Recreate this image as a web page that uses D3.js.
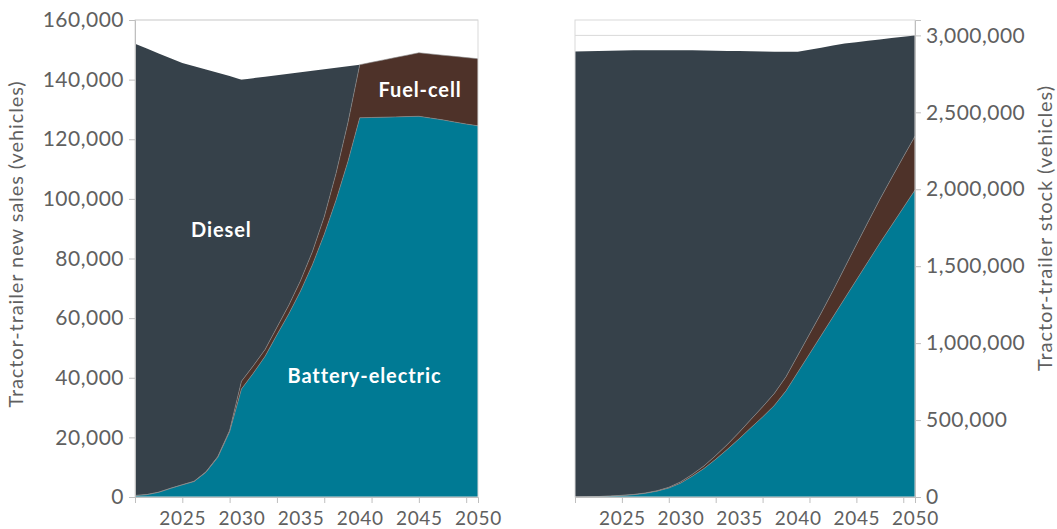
<!DOCTYPE html>
<html>
<head>
<meta charset="utf-8">
<script src="https://cdn.jsdelivr.net/npm/d3@7"></script>
<style>
  body { margin: 0; background: #fff; }
  svg { display: block; font-family: Lato, "Open Sans", sans-serif; }
  .tick text { fill: #606060; }
</style>
</head>
<body>
<svg id="chart"></svg>
<script>
const width = 1057;
const height = 529;

const years = [2021, 2022, 2023, 2024, 2025, 2026, 2027, 2028, 2029, 2030,
	2031, 2032, 2033, 2034, 2035, 2036, 2037, 2038, 2039, 2040,
	2041, 2042, 2043, 2044, 2045, 2046, 2047, 2048, 2049, 2050];

// new sales (vehicles)
const salesBev = [500, 800, 1600, 2900, 4100, 5200, 8300, 13300, 21900, 36200,
	41500, 47200, 54400, 61400, 69100, 77900, 88100, 99600, 112500, 127200,
	127300, 127400, 127500, 127600, 127700, 127100, 126500, 125800, 125100, 124500];
const salesFcev = [0, 0, 0, 0, 0, 100, 150, 250, 400, 2600,
	2500, 2300, 2500, 2900, 3500, 4400, 5900, 9000, 13000, 17800,
	18500, 19200, 19900, 20600, 21300, 21500, 21700, 22000, 22300, 22500];
const salesDiesel = [151500, 149600, 147200, 144300, 141500, 139200, 134950, 128750, 118900, 101200,
	96500, 91500, 84600, 77700, 69900, 60700, 49500, 35400, 19000, 0,
	0, 0, 0, 0, 0, 0, 0, 0, 0, 0];

// stock (vehicles)
const stockBev = [0, 1000, 3000, 6000, 10000, 15000, 24000, 38000, 58000, 90000,
	135000, 185000, 245000, 310000, 378000, 450000, 520000, 595000, 690000, 810000,
	930000, 1050000, 1170000, 1290000, 1410000, 1530000, 1650000, 1765000, 1880000, 1995000];
const stockFcev = [0, 0, 0, 500, 1000, 1500, 2000, 3000, 5000, 8000,
	12000, 17000, 24000, 32000, 42000, 54000, 66000, 78000, 92000, 110000,
	128000, 146000, 170000, 200000, 230000, 258000, 284000, 308000, 330000, 350000];
const stockDiesel = [2895000, 2896000, 2896000, 2893500, 2891000, 2886500, 2877000, 2862000, 2840000, 2805000,
	2756000, 2700000, 2631000, 2557000, 2478000, 2393000, 2309000, 2220000, 2111000, 1973000,
	1849000, 1724000, 1594000, 1457000, 1316000, 1177000, 1040000, 910000, 781000, 655000];

const seriesKeys = ['bev', 'fcev', 'diesel'];
const colors = { bev: '#007a94', fcev: '#4e3229', diesel: '#36414a' };

const tickYears = [2021, 2025, 2029, 2033, 2037, 2041, 2045, 2049];
const labelYears = [2025, 2030, 2035, 2040, 2045, 2050];
const salesTicks = [0, 20000, 40000, 60000, 80000, 100000, 120000, 140000, 160000];
const stockTicks = [0, 500000, 1000000, 1500000, 2000000, 2500000, 3000000];

const fmt = d3.format(',');

const svg = d3.select('#chart').attr('width', width).attr('height', height);

function drawPanel(opts) {
	const x = d3.scaleLinear().domain([2021, 2050]).range(opts.xRange);
	const y = d3.scaleLinear().domain([0, opts.yMax]).range([497, 20]);

	const table = years.map((yr, i) => ({
		year: yr,
		bev: opts.bev[i],
		fcev: opts.fcev[i],
		diesel: opts.diesel[i],
	}));
	const stacked = d3.stack().keys(seriesKeys)(table);

	const g = svg.append('g');

	// gridlines sit behind the areas, only the top one shows
	g.append('g')
		.selectAll('line')
		.data(opts.ticks)
		.enter()
		.append('line')
		.attr('x1', opts.xRange[0])
		.attr('x2', opts.xRange[1])
		.attr('y1', (d) => y(d))
		.attr('y2', (d) => y(d))
		.attr('stroke', '#d9d9d9')
		.attr('stroke-width', 1);

	const area = d3
		.area()
		.x((d) => x(d.data.year))
		.y0((d) => y(d[0]))
		.y1((d) => y(d[1]));

	g.append('g')
		.selectAll('path')
		.data(stacked)
		.enter()
		.append('path')
		.attr('d', area)
		.attr('fill', (d) => colors[d.key]);

	// thin light boundaries between the stacked series
	const edge = d3
		.line()
		.x((d) => x(d.data.year))
		.y((d) => y(d[1]));
	g.append('g')
		.selectAll('path')
		.data(stacked.slice(0, 2))
		.enter()
		.append('path')
		.attr('d', edge)
		.attr('fill', 'none')
		.attr('stroke', '#8d8d8d')
		.attr('stroke-width', 0.6);

	// plot frame
	g.append('rect')
		.attr('x', opts.xRange[0])
		.attr('y', 20)
		.attr('width', opts.xRange[1] - opts.xRange[0])
		.attr('height', 477)
		.attr('fill', 'none')
		.attr('stroke', '#d9d9d9')
		.attr('stroke-width', 1);

	// x ticks (every 4 years) and labels (every 5 years)
	const xTickAxis = g
		.append('g')
		.attr('transform', 'translate(0,497)')
		.call(d3.axisBottom(x).tickValues(tickYears).tickSize(6).tickFormat(''));
	xTickAxis.select('.domain').attr('stroke', '#bfbfbf');
	xTickAxis.selectAll('.tick line').attr('stroke', '#bfbfbf');

	const xLabelAxis = g
		.append('g')
		.attr('transform', 'translate(0,497)')
		.call(d3.axisBottom(x).tickValues(labelYears).tickSize(0).tickPadding(15).tickFormat(d3.format('d')));
	xLabelAxis.select('.domain').remove();
	xLabelAxis.selectAll('text').attr('font-size', 19).attr('font-family', 'Lato, sans-serif').attr('letter-spacing', 0.7);

	// y axis
	const yAxis = opts.side === 'left' ? d3.axisLeft(y) : d3.axisRight(y);
	const yg = g
		.append('g')
		.attr('transform', `translate(${opts.side === 'left' ? opts.xRange[0] : opts.xRange[1]},0)`)
		.call(yAxis.tickValues(opts.ticks).tickSize(6).tickPadding(5).tickFormat(fmt));
	yg.select('.domain').attr('stroke', '#bfbfbf');
	yg.selectAll('.tick line').attr('stroke', '#bfbfbf');
	yg.selectAll('text').attr('font-size', 21).attr('font-family', 'Lato, sans-serif').attr('letter-spacing', 0.5);

	svg.append('text')
		.attr('transform', `translate(${opts.titleX},${opts.titleY}) rotate(-90)`)
		.attr('text-anchor', 'middle')
		.attr('dominant-baseline', 'middle')
		.attr('fill', '#606060')
		.attr('font-size', 20)
		.attr('letter-spacing', 0.9)
		.text(opts.title);

	return { x, y, g };
}

const sales = drawPanel({
	xRange: [135, 478],
	yMax: 160000,
	ticks: salesTicks,
	bev: salesBev,
	fcev: salesFcev,
	diesel: salesDiesel,
	side: 'left',
	title: 'Tractor-trailer new sales (vehicles)',
	titleX: 18,
	titleY: 244,
});

drawPanel({
	xRange: [575, 915],
	yMax: 3100000,
	ticks: stockTicks,
	bev: stockBev,
	fcev: stockFcev,
	diesel: stockDiesel,
	side: 'right',
	title: 'Tractor-trailer stock (vehicles)',
	titleX: 1047,
	titleY: 228,
});

// series labels on the sales panel
const seriesLabels = [
	{ text: 'Diesel', year: 2028.3, value: 89000 },
	{ text: 'Fuel-cell', year: 2045.1, value: 136000 },
	{ text: 'Battery-electric', year: 2040.4, value: 40000 },
];
sales.g
	.selectAll('.series-label')
	.data(seriesLabels)
	.enter()
	.append('text')
	.attr('class', 'series-label')
	.attr('x', (d) => sales.x(d.year))
	.attr('y', (d) => sales.y(d.value))
	.attr('text-anchor', 'middle')
	.attr('dominant-baseline', 'middle')
	.attr('fill', '#fff')
	.attr('font-size', 20)
	.attr('font-weight', 700)
	.attr('letter-spacing', 0.9)
	.text((d) => d.text);
</script>
</body>
</html>
